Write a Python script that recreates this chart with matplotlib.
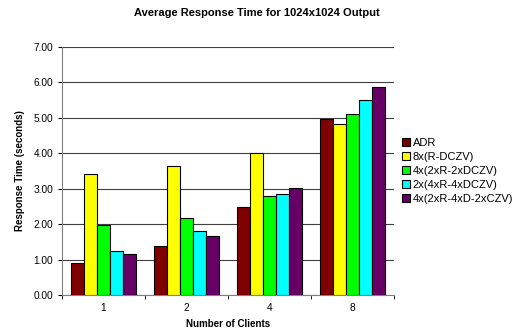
import matplotlib
matplotlib.use("Agg")
import matplotlib.pyplot as plt
import numpy as np

plt.rcParams['font.family'] = ['Liberation Sans', 'DejaVu Sans']

categories = ["1", "2", "4", "8"]
series_names = ["ADR", "8x(R-DCZV)", "4x(2xR-2xDCZV)", "2x(4xR-4xDCZV)", "4x(2xR-4xD-2xCZV)"]
adr = [0.91, 1.38, 2.47, 4.96]
r_dczv = [3.41, 3.64, 4.01, 4.84]
r2_dczv2 = [1.97, 2.16, 2.80, 5.12]
r4_dczv4 = [1.24, 1.82, 2.85, 5.49]
r2_d4_czv2 = [1.16, 1.66, 3.02, 5.88]
colors = ["#800000", "#FFFF00", "#00FF00", "#00FFFF", "#660066"]
yticks = [0, 1, 2, 3, 4, 5, 6, 7]

data = [adr, r_dczv, r2_dczv2, r4_dczv4, r2_d4_czv2]

fig = plt.figure(figsize=(5.14, 3.35), dpi=100)
ax = fig.add_axes([0.1206, 0.1194, 0.6459, 0.7403])

x = np.arange(len(categories))
w = 0.157
for i, (vals, c, name) in enumerate(zip(data, colors, series_names)):
    ax.bar(x + (i - 2) * w, vals, width=w, color=c, edgecolor="black", linewidth=0.8, label=name, zorder=3)

ax.set_xlim(-0.5, len(categories) - 0.5)
ax.set_ylim(0, 7)
ax.set_yticks(yticks)
ax.set_yticklabels([f"{v:.2f}" for v in yticks], fontsize=7.3)
ax.set_xticks(x)
ax.set_xticklabels(categories, fontsize=7.3)
ax.tick_params(axis='x', length=0, pad=6)
ax.set_xticks(np.arange(-0.5, len(categories), 1), minor=True)
ax.tick_params(axis='x', which='minor', length=3, direction='out')
ax.tick_params(axis='y', length=3, direction='out', width=0.8)
ax.grid(axis='y', color='#404040', linewidth=0.8, zorder=0)
for s in ['top', 'right']:
    ax.spines[s].set_visible(False)
ax.spines['left'].set_color('#808080')
ax.spines['bottom'].set_color('#808080')

ax.set_xlabel("Number of Clients", fontsize=7, fontweight='bold', labelpad=4)
ax.set_ylabel("Response Time (seconds)", fontsize=7, fontweight='bold', labelpad=6)
fig.suptitle("Average Response Time for 1024x1024 Output", fontsize=8, fontweight='bold', x=0.5, y=0.975)

leg = ax.legend(loc='upper left', bbox_to_anchor=(1.01, 0.65), fontsize=8, frameon=False,
                handlelength=0.75, handleheight=0.75, handletextpad=0.25, labelspacing=0.35, borderaxespad=0)

fig.savefig("out.png", dpi=100)
